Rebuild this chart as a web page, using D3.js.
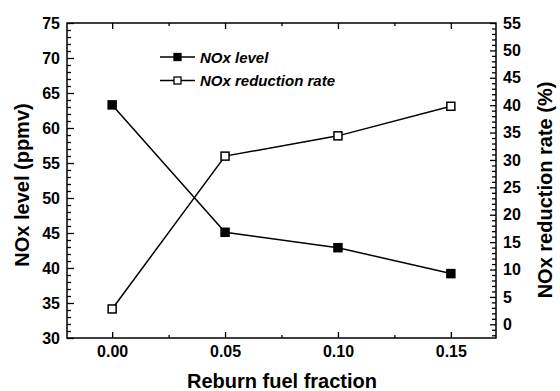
<!DOCTYPE html>
<html lang="en">
<head>
<meta charset="UTF-8">
<title>NOx vs reburn fuel fraction</title>
<style>
  body { margin: 0; background: #fff; }
  svg { display: block; font-family: "Liberation Sans", Arial, sans-serif; font-weight: bold; }
  .tick text { font-family: "Liberation Sans", Arial, sans-serif; font-weight: bold; font-size: 16px; fill: #000; }
  .tick line, .domain { stroke: #000; stroke-width: 1.3px; }
  .line { fill: none; stroke: #000; stroke-width: 1.5px; }
</style>
</head>
<body>
<script src="https://d3js.org/d3.v7.min.js"></script>
<script>
// data
const fraction = [0.00, 0.05, 0.10, 0.15];
const noxLevel = [63.3, 45.1, 42.9, 39.2];
const reductionRate = [2.8, 30.7, 34.4, 39.8];

const xTicks = [0.00, 0.05, 0.10, 0.15];
const leftTicks = [30, 35, 40, 45, 50, 55, 60, 65, 70, 75];
const rightTicks = [0, 5, 10, 15, 20, 25, 30, 35, 40, 45, 50, 55];

const margin = { top: 23, right: 64, bottom: 53, left: 67 };
const width = 560 - margin.left - margin.right;
const height = 391 - margin.top - margin.bottom;

const x = d3.scaleLinear().domain([-0.02, 0.17]).range([0, width]);
const yL = d3.scaleLinear().domain([30, 75]).range([height, 0]);
const yR = d3.scaleLinear().domain([-2.5, 55]).range([height, 0]);

const svg = d3.select('body').append('svg')
  .attr('width', 560)
  .attr('height', 391);

const g = svg.append('g')
  .attr('transform', `translate(${margin.left},${margin.top})`);

// minor tick values
const xMinor = d3.range(-0.025, 0.18, 0.025).filter(v => v > -0.02 && v < 0.17 && !xTicks.some(t => Math.abs(t - v) < 1e-6));
const leftMinor = d3.range(30, 76, 1).filter(v => v % 5 !== 0);
const rightMinor = d3.range(-2, 56, 1).filter(v => v % 5 !== 0);

function minor(axis, vals, size) {
  return axis.tickValues(vals).tickSize(size).tickFormat('');
}

// bottom axis
g.append('g').attr('transform', `translate(0,${height})`)
  .call(minor(d3.axisBottom(x), xMinor, -3));
g.append('g').attr('transform', `translate(0,${height})`)
  .call(d3.axisBottom(x).tickValues(xTicks).tickSize(-6).tickPadding(8).tickFormat(d3.format('.2f')));

// top axis (ticks only)
g.append('g')
  .call(minor(d3.axisTop(x), xMinor, -3));
g.append('g')
  .call(d3.axisTop(x).tickValues(xTicks).tickSize(-6).tickFormat(''));

// left axis
g.append('g')
  .call(minor(d3.axisLeft(yL), leftMinor, -4));
g.append('g')
  .call(d3.axisLeft(yL).tickValues(leftTicks).tickSize(-7).tickPadding(7));

// right axis
g.append('g').attr('transform', `translate(${width},0)`)
  .call(minor(d3.axisRight(yR), rightMinor, -4));
g.append('g').attr('transform', `translate(${width},0)`)
  .call(d3.axisRight(yR).tickValues(rightTicks).tickSize(-6).tickPadding(7));

// frame drawn as one rect instead of the axis domain paths
g.selectAll('.domain').remove();
g.append('rect')
  .attr('width', width)
  .attr('height', height)
  .attr('fill', 'none')
  .attr('stroke', '#000')
  .attr('stroke-width', 1.5);

// lines
const lineL = d3.line().x((d, i) => x(fraction[i])).y(d => yL(d));
const lineR = d3.line().x((d, i) => x(fraction[i])).y(d => yR(d));

g.append('path').datum(noxLevel).attr('class', 'line').attr('d', lineL);
g.append('path').datum(reductionRate).attr('class', 'line').attr('d', lineR);

const ms = 9.5;
g.selectAll('.mL').data(noxLevel).enter().append('rect')
  .attr('x', (d, i) => x(fraction[i]) - ms / 2)
  .attr('y', d => yL(d) - ms / 2)
  .attr('width', ms).attr('height', ms)
  .attr('fill', '#000');

g.selectAll('.mR').data(reductionRate).enter().append('rect')
  .attr('x', (d, i) => x(fraction[i]) - (ms - 1.5) / 2)
  .attr('y', d => yR(d) - (ms - 1.5) / 2)
  .attr('width', ms - 1.5).attr('height', ms - 1.5)
  .attr('fill', '#fff').attr('stroke', '#000').attr('stroke-width', 1.5);

// legend
const legend = [
  { label: 'NOx level', fill: '#000' },
  { label: 'NOx reduction rate', fill: '#fff' }
];
const lg = svg.append('g').attr('transform', 'translate(160,57)');
legend.forEach((d, i) => {
  const row = lg.append('g').attr('transform', `translate(0,${i * 23.5})`);
  row.append('line').attr('x1', 0).attr('x2', 35).attr('y1', 0).attr('y2', 0)
    .attr('stroke', '#000').attr('stroke-width', 1.5);
  row.append('rect').attr('x', 14).attr('y', -3.5).attr('width', 7).attr('height', 7)
    .attr('fill', d.fill).attr('stroke', '#000').attr('stroke-width', 1.3);
  row.append('text').attr('x', 40).attr('y', 5.5)
    .attr('font-size', 15).attr('font-style', 'italic')
    .text(d.label);
});

// axis titles
svg.append('text')
  .attr('x', 282).attr('y', 388)
  .attr('text-anchor', 'middle').attr('font-size', 20)
  .text('Reburn fuel fraction');

svg.append('text')
  .attr('transform', 'translate(29,185) rotate(-90)')
  .attr('text-anchor', 'middle').attr('font-size', 20)
  .text('NOx level (ppmv)');

svg.append('text')
  .attr('transform', 'translate(552,190) rotate(-90)')
  .attr('text-anchor', 'middle').attr('font-size', 20)
  .text('NOx reduction rate (%)');
</script>
</body>
</html>
